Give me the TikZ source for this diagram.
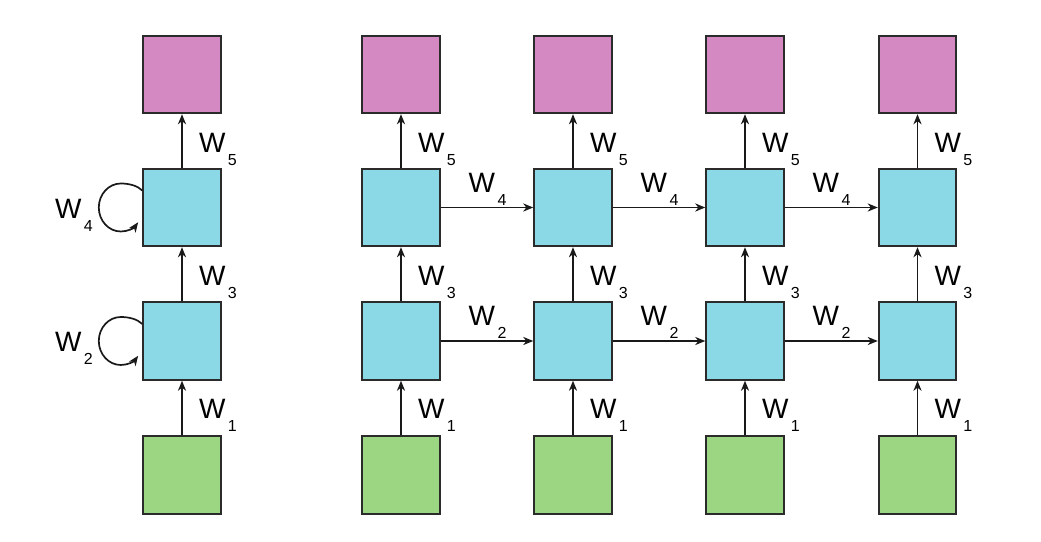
\documentclass[tikz,border=0pt]{standalone}
\usepackage{fontspec}
\setmainfont{Liberation Sans}
\usetikzlibrary{arrows.meta}
\definecolor{pinkc}{HTML}{D489C3}
\definecolor{bluec}{HTML}{8BD9E6}
\definecolor{greenc}{HTML}{9CD683}
\definecolor{edgec}{HTML}{2B2B2B}
\newcommand\wlab[1]{W\kern2.5pt\raisebox{-13pt}{\fontsize{16}{16}\selectfont #1}}
\begin{document}
\begin{tikzpicture}[x=1pt,y=1pt,
  box/.style={draw=edgec, line width=1.9pt, minimum size=77.5pt, inner sep=0pt},
  outbox/.style={box, fill=pinkc},
  hidbox/.style={box, fill=bluec},
  inbox/.style={box, fill=greenc},
  conn/.style={draw=black!90, line width=1.7pt, -{Stealth[length=10pt,width=8pt,inset=3pt]}},
  lab/.style={anchor=base west, inner sep=0pt, outer sep=0pt, font=\fontsize{28}{30}\selectfont},
]
\useasboundingbox (0,0) rectangle (1041,541);
% left folded column
\node[outbox] (lp) at (182,466.5) {};
\node[hidbox] (lu) at (182,333.5) {};
\node[hidbox] (ld) at (182,200) {};
\node[inbox]  (lx) at (182,66) {};
\draw[conn] (lx) -- (ld);
\draw[conn] (ld) -- (lu);
\draw[conn] (lu) -- (lp);
\node[lab] at ([xshift=17pt,yshift=-38pt]ld.south) {\wlab{1}};
\node[lab] at ([xshift=17pt,yshift=-38pt]lu.south) {\wlab{3}};
\node[lab] at ([xshift=17pt,yshift=-38pt]lp.south) {\wlab{5}};
\draw[conn] ([yshift=17pt]lu.west) .. controls +(-5,5) and +(8,0) .. ++(-21.5,7)
   arc[start angle=90,end angle=322,x radius=22,y radius=24];
\draw[conn] ([yshift=17pt]ld.west) .. controls +(-5,5) and +(8,0) .. ++(-21.5,7)
   arc[start angle=90,end angle=322,x radius=22,y radius=24];
\node[lab] at ([xshift=-127pt,yshift=-11pt]lu.center) {\wlab{4}};
\node[lab] at ([xshift=-127pt,yshift=-11pt]ld.center) {\wlab{2}};
% unrolled columns
\foreach \i/\cx in {1/401,2/573,3/745,4/917.5}{
  \node[outbox] (p\i) at (\cx,466.5) {};
  \node[hidbox] (u\i) at (\cx,333.5) {};
  \node[hidbox] (d\i) at (\cx,200) {};
  \node[inbox]  (x\i) at (\cx,66) {};
  \draw[conn] (x\i) -- (d\i);
  \draw[conn] (d\i) -- (u\i);
  \draw[conn] (u\i) -- (p\i);
  \node[lab] at ([xshift=17pt,yshift=-38pt]d\i.south) {\wlab{1}};
  \node[lab] at ([xshift=17pt,yshift=-38pt]u\i.south) {\wlab{3}};
  \node[lab] at ([xshift=17pt,yshift=-38pt]p\i.south) {\wlab{5}};
}
\foreach \i/\j in {1/2,2/3,3/4}{
  \draw[conn] (u\i) -- (u\j);
  \draw[conn] (d\i) -- (d\j);
  \node[lab] at ([xshift=28pt,yshift=15pt]u\i.east) {\wlab{4}};
  \node[lab] at ([xshift=28pt,yshift=15pt]d\i.east) {\wlab{2}};
}
\end{tikzpicture}
\end{document}
